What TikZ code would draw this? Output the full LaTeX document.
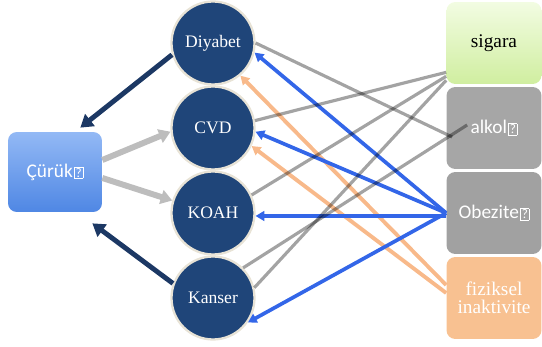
\documentclass[tikz,border=0pt]{standalone}
\usepackage{fontspec}
\setmainfont{Liberation Serif}
\setsansfont{Carlito}
\usetikzlibrary{arrows.meta,calc,positioning}
\definecolor{cDis}{HTML}{1F4579}
\definecolor{cRing}{HTML}{E8E3D6}
\definecolor{cCurT}{HTML}{93B9F5}
\definecolor{cCurB}{HTML}{4F87E4}
\definecolor{cSigT}{HTML}{F2FCE2}
\definecolor{cSigB}{HTML}{D0EEA0}
\definecolor{cAlk}{HTML}{A6A6A6}
\definecolor{cObz}{HTML}{A1A1A1}
\definecolor{cFiz}{HTML}{F8C191}
\definecolor{cBlu}{HTML}{3366E8}
\definecolor{cOrg}{HTML}{F8B98A}
\definecolor{cNav}{HTML}{1C3864}
\definecolor{cGry}{HTML}{BDBDBD}
% missing-glyph box as printed
\newcommand{\qbox}{\kern0.8pt{\setlength{\fboxsep}{0.4pt}\setlength{\fboxrule}{0.45pt}\fbox{\fontsize{7.5}{7.5}\selectfont ?}}}
\tikzset{
  dis/.style={circle, draw=cRing, line width=1.3pt, fill=cDis, minimum size=1.66cm, inner sep=0pt, text=white, font=\fontsize{10}{12}\selectfont},
  fac/.style={rounded corners=5pt, minimum width=1.9cm, minimum height=1.64cm, inner sep=1pt, align=center, font=\fontsize{11}{12}\selectfont},
  narr/.style={-{Triangle[length=7pt,width=8.5pt]}, line width=2.8pt, draw=cNav},
  garr/.style={-{Triangle[length=6.5pt,width=8pt]}, line width=3.4pt, draw=cGry},
  barr/.style={-{Triangle[length=5pt,width=5.5pt]}, line width=2.1pt, draw=cBlu},
  oarr/.style={-{Triangle[length=5pt,width=5.5pt]}, line width=2.2pt, draw=cOrg},
  gln/.style={line width=1.8pt, draw=black, draw opacity=0.36},
}
\begin{document}
\begin{tikzpicture}[x=0.02cm, y=-0.02cm]
\useasboundingbox (0,0) rectangle (542,347);
% left box
\node[fac, minimum width=1.88cm, minimum height=1.6cm, top color=cCurT, bottom color=cCurB, text=white, font=\sffamily\fontsize{11}{12}\selectfont] (cur) at (55,172) {Çürük\qbox};
% diseases
\node[dis] (diy) at (213,43) {Diyabet};
\node[dis] (cvd) at (213,128) {CVD};
\node[dis] (koah) at (213,213) {KOAH};
\node[dis] (kan) at (213,298) {Kanser};
% risk factors
\node[fac, top color=cSigT, bottom color=cSigB, text=black] (sig) at (494,43) {sigara};
\node[fac, fill=cAlk, text=white, font=\sffamily\fontsize{11}{12}\selectfont] (alk) at (494,128) {alkol\qbox};
\node[fac, fill=cObz, text=white, font=\sffamily\fontsize{11}{12}\selectfont] (obz) at (494,213) {Obezite\qbox};
\node[fac, fill=cFiz, text=white] (fiz) at (494,298) {fiziksel\\[-2pt]inaktivite};
% to and from the left box
\draw[narr] (diy.196) -- ([xshift=-0.44cm,yshift=0.08cm]cur.north east);
\draw[narr] (kan.160) -- ([xshift=-0.2cm,yshift=-0.22cm]cur.south east);
\draw[garr] ([yshift=0.24cm]cur.east) -- (cvd.185);
\draw[garr] ([yshift=-0.12cm]cur.east) -- (koah.163);
% fiziksel inaktivite
\draw[oarr] ([yshift=0.26cm]fiz.west) -- (diy.-50);
\draw[oarr] ([yshift=0.1cm]fiz.west) -- (cvd.-25);
% obezite
\draw[barr] (obz.west) -- (diy.-13);
\draw[barr] (obz.west) -- (cvd.-5);
\draw[barr] ([yshift=-0.06cm]obz.west) -- (koah.-4);
\draw[barr] (obz.west) -- (kan.-35);
% sigara, alkol
\draw[gln] ([yshift=0.24cm]sig.south west) -- (cvd.10);
\draw[gln] ([yshift=0.16cm]sig.south west) -- (koah.25);
\draw[gln] ([yshift=0.08cm]sig.south west) -- (kan.14);
\draw[gln] (diy.0) -- ($(alk.west)+(6,9)$);
\draw[gln] ($(alk.west)+(21,-3)$) -- (kan.45);
\end{tikzpicture}
\end{document}
